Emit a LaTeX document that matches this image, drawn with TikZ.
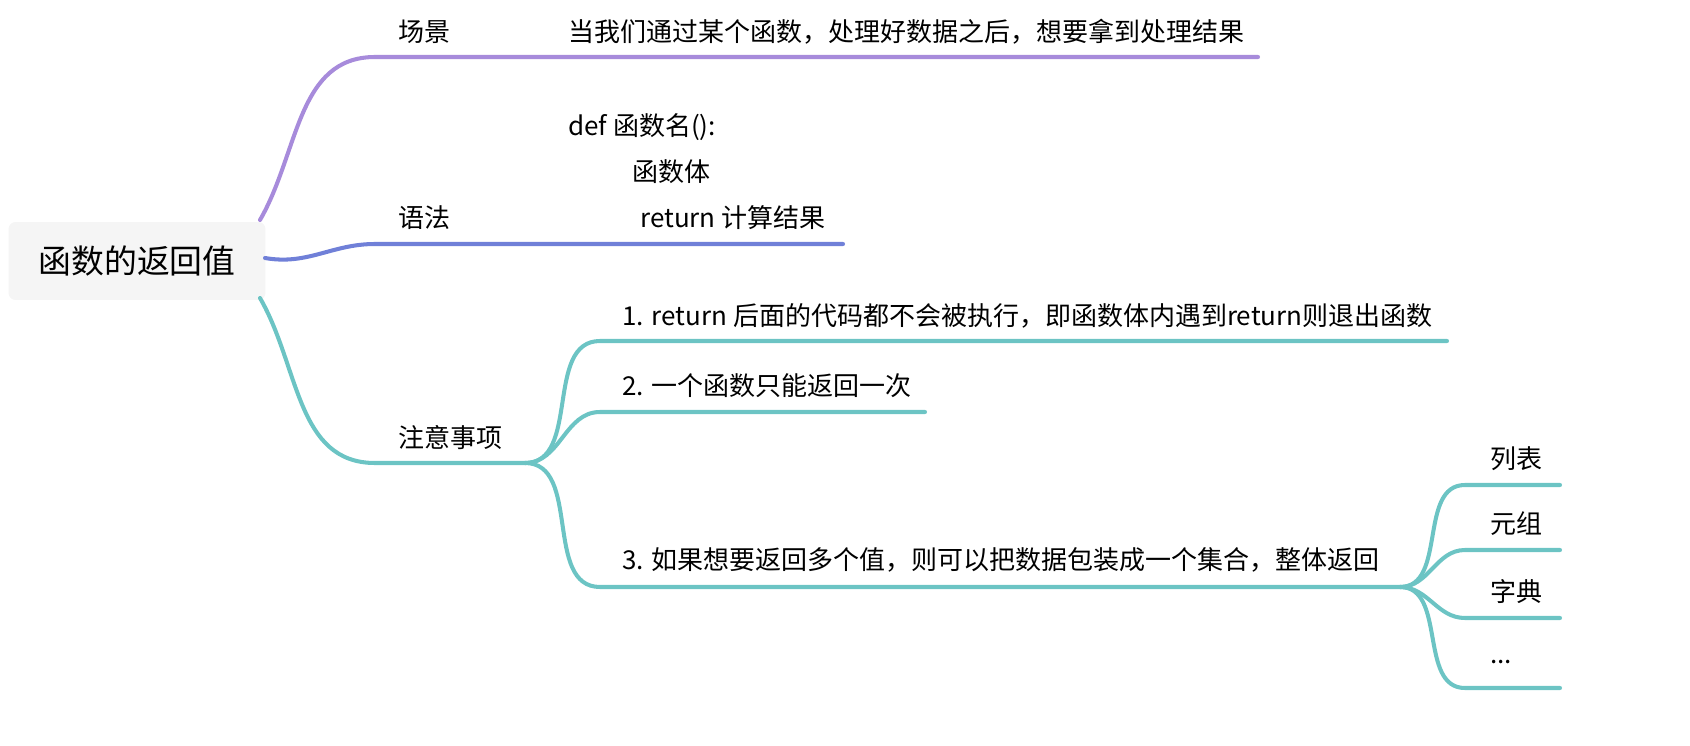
\documentclass[tikz,border=0pt]{standalone}
\usepackage{fontspec}
\setmainfont{Noto Sans CJK SC}
\usetikzlibrary{positioning}
\definecolor{bscene}{RGB}{167,139,219}
\definecolor{bsyntax}{RGB}{112,128,216}
\definecolor{bnote}{RGB}{108,196,196}
\definecolor{rootfill}{RGB}{245,245,245}
\begin{document}
\begin{tikzpicture}[x=0.02cm, y=-0.02cm,
    branch/.style={line width=2.3pt, line cap=round},
    lbl/.style={anchor=west, inner sep=0pt, font=\fontsize{14.8}{18}\selectfont},
    rootbox/.style={rectangle, rounded corners=4pt, fill=rootfill,
                minimum width=5.14cm, minimum height=1.56cm, font=\fontsize{18.7}{22}\selectfont}]
    \useasboundingbox (0,0) rectangle (1690,746);

    % Root
    \node[rootbox] (root) at (137,261) {函数的返回值};

    % Scene
    \coordinate (s0) at (260,220);
    \coordinate (s1) at (375,57);
    \coordinate (s2) at (1258,57);
    \draw[branch, bscene] (s0) to[out=60, in=180] (s1) -- (s2);
    \node[lbl] (scene) at (398,32) {场景};
    \node[lbl] (scenetxt) at (568,32) {当我们通过某个函数，处理好数据之后，想要拿到处理结果};

    % Syntax
    \coordinate (y0) at (265,258);
    \coordinate (y1) at (375,244);
    \coordinate (y2) at (843,244);
    \draw[branch, bsyntax] (y0) to[out=-10, in=180] (y1) -- (y2);
    \node[lbl] (syntax) at (398,218) {语法};
    \node[lbl] (def) at (568,127) {def 函数名():};
    \node[lbl] (body) at (632,172) {函数体};
    \node[lbl] (ret) at (640,218) {return 计算结果};

    % Notes
    \coordinate (n0) at (260,298);
    \coordinate (n1) at (375,463);
    \coordinate (n2) at (525,463);
    \draw[branch, bnote] (n0) to[out=-60, in=180] (n1) -- (n2);
    \node[lbl] (note) at (398,438) {注意事项};

    \coordinate (a1) at (600,341);
    \coordinate (a2) at (1447,341);
    \coordinate (b1) at (600,412);
    \coordinate (b2) at (925,412);
    \coordinate (c1) at (600,587);
    \coordinate (c2) at (1400,587);
    \draw[branch, bnote] (n2) to[out=0, in=180] (a1) -- (a2);
    \draw[branch, bnote] (n2) to[out=0, in=180] (b1) -- (b2);
    \draw[branch, bnote] (n2) to[out=0, in=180] (c1) -- (c2);
    \node[lbl] (na) at (622,316) {1. return 后面的代码都不会被执行，即函数体内遇到return则退出函数};
    \node[lbl] (nb) at (622,386) {2. 一个函数只能返回一次};
    \node[lbl] (nc) at (622,560) {3. 如果想要返回多个值，则可以把数据包装成一个集合，整体返回};

    % Collections
    \foreach \name/\yy/\txt in {list/485/列表, tuple/550/元组, dict/618/字典}{
        \coordinate (\name1) at (1465,\yy);
        \coordinate (\name2) at (1560,\yy);
        \draw[branch, bnote] (c2) to[out=0, in=180] (\name1) -- (\name2);
        \node[lbl] (\name) at (1490,\yy-26) {\txt};
    }
    \coordinate (more1) at (1465,688);
    \coordinate (more2) at (1560,688);
    \draw[branch, bnote] (c2) to[out=0, in=180] (more1) -- (more2);
    \node[lbl] (more) at (1490,662) {.{}.{}.};
\end{tikzpicture}
\end{document}
